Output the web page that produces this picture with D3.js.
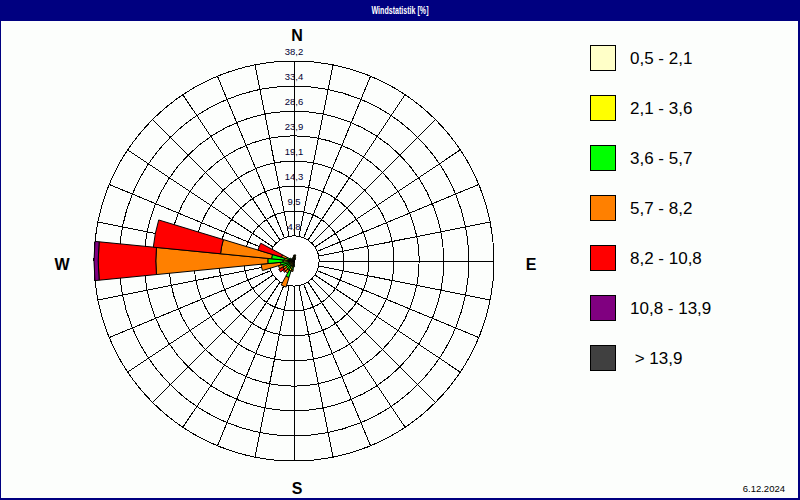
<!DOCTYPE html>
<html><head><meta charset="utf-8">
<script src="https://cdn.jsdelivr.net/npm/d3@7"></script>
<style>body{margin:0;background:#fff}svg{display:block}</style>
</head><body>
<script>
const title = "Windstatistik [%]";
const dateText = "6.12.2024";
const bearings = [0,11.25,22.5,33.75,45,56.25,67.5,78.75,90,101.25,112.5,123.75,135,146.25,157.5,168.75,180,191.25,202.5,213.75,225,236.25,247.5,258.75,270,281.25,292.5,303.75,315,326.25,337.5,348.75];
const classLabels = ["0,5 - 2,1","2,1 - 3,6","3,6 - 5,7","5,7 - 8,2","8,2 - 10,8","10,8 - 13,9"," > 13,9"];
const classColors = ["#ffffc8","#ffff00","#00ff00","#ff8000","#ff0000","#800080","#404040"];
const s1 = [0.3,0.3,0.2,0.2,0.1,0.1,0.1,0.1,0.1,0.1,0.1,0.1,0.1,0.1,0.1,0.2,0.3,0.3,0.4,0.3,0.3,0.3,0.3,0.3,0.5,0.5,0.3,0.3,0.2,0.2,0.2,0.3];
const s2 = [0.8,0.9,0.5,0.2,0.1,0,0,0,0,0,0,0,0,0,0,0.2,0.5,0.8,1.6,0.9,0.7,0.6,0.7,0.8,1.6,1.3,0.5,0.4,0.3,0.3,0.4,0.5];
const s3 = [0,0,0,0,0,0,0,0,0,0,0,0,0,0,0,0,0.3,0.6,1.3,0.8,0.9,0.8,1.3,1.5,2.9,2.5,0.7,0.2,0,0,0,0];
const s4 = [0,0,0,0,0,0,0,0,0,0,0,0,0,0,0,0,0,0.3,1.9,0.6,0.6,0.7,0.8,3.7,21.4,9.8,1.0,0,0,0,0,0];
const s5 = [0,0,0,0,0,0,0,0,0,0,0,0,0,0,0,0,0,0,0,0,0.3,0.9,0,0,11.0,12.9,4.7,0,0,0,0,0];
const s6 = [0,0,0,0,0,0,0,0,0,0,0,0,0,0,0,0,0,0,0,0,0,0,0,0,0.8,0,0,0,0,0,0,0];
const s7 = [0,0,0,0,0,0,0,0,0,0,0,0,0,0,0,0,0,0,0,0,0,0,0,0,0,0,0,0,0,0,0,0];
const series = [s1,s2,s3,s4,s5,s6,s7];
const ringTicks = [4.8,9.5,14.3,19.1,23.9,28.6,33.4,38.2];
const ringLabels = ["4,8","9,5","14,3","19,1","23,9","28,6","33,4","38,2"];
const compass = [{t:"N",a:0},{t:"E",a:90},{t:"S",a:180},{t:"W",a:270}];

const W = 800, H = 500, cx = 294, cy = 261, R = 200;
const svg = d3.select("body").append("svg").attr("width", W).attr("height", H);
svg.append("rect").attr("width", W).attr("height", H).attr("fill", "#000080");
svg.append("rect").attr("x", 1).attr("y", 21).attr("width", 797).attr("height", 477).attr("fill", "#fcfefc");
svg.append("text").attr("x", 400).attr("y", 14).attr("text-anchor", "middle")
  .attr("font-family", "Liberation Sans Narrow, Liberation Sans, sans-serif").attr("font-size", 11)
  .attr("font-weight", "bold")
  .attr("fill", "#fff").attr("textLength", 57).attr("lengthAdjust", "spacingAndGlyphs").text(title);
svg.append("text").attr("x", 785).attr("y", 492).attr("text-anchor", "end")
  .attr("font-family", "Liberation Sans, sans-serif").attr("font-size", 9.5).attr("fill", "#000").text(dateText);

const r = d3.scaleLinear().domain([0, 38.2]).range([0, R]);
const rad = d3.scaleLinear().domain([0, 360]).range([0, 2 * Math.PI]);
const g = svg.append("g").attr("transform", `translate(${cx},${cy})`);
const rin = r(ringTicks[0]);

// spokes
g.selectAll("line.spoke").data(bearings).join("line")
  .attr("x1", d => rin * Math.sin(rad(d))).attr("y1", d => -rin * Math.cos(rad(d)))
  .attr("x2", d => R * Math.sin(rad(d))).attr("y2", d => -R * Math.cos(rad(d)))
  .attr("stroke", "#000").attr("stroke-width", 1).attr("shape-rendering", "crispEdges");
// rings
g.selectAll("circle.ring").data(ringTicks).join("circle")
  .attr("r", d => r(d)).attr("fill", "none").attr("stroke", "#000").attr("stroke-width", 1)
  .attr("shape-rendering", "crispEdges");
g.append("circle").attr("r", rin).attr("fill", "#fff").attr("stroke", "#000").attr("shape-rendering", "crispEdges");
// ring labels
g.selectAll("text.rl").data(ringTicks).join("text")
  .attr("x", 0).attr("y", (d) => -r(d) - 6).attr("text-anchor", "middle")
  .attr("font-family", "Liberation Sans, sans-serif").attr("font-size", 9.5)
  .attr("fill", "#000033").text((d, i) => ringLabels[i]);

// bars
const stackData = [];
bearings.forEach((b, i) => {
  let cum = 0;
  series.forEach((s, k) => {
    const v = s[i];
    if (v > 0) stackData.push({b, k, inner: cum, outer: cum + v});
    cum += v;
  });
});
const half = 11.25 / 2;
const arc = d3.arc()
  .innerRadius(d => r(d.inner)).outerRadius(d => r(d.outer))
  .startAngle(d => rad(d.b - half)).endAngle(d => rad(d.b + half));
g.selectAll("path.seg").data(stackData).join("path")
  .attr("d", arc).attr("fill", d => classColors[d.k]).attr("stroke", "#000").attr("stroke-width", 1);

// compass labels
const cpos = {N:[297,41], E:[531,270], S:[297,494], W:[62,270]};
svg.selectAll("text.cmp").data(compass).join("text")
  .attr("x", d => cpos[d.t][0]).attr("y", d => cpos[d.t][1]).attr("text-anchor", "middle")
  .attr("font-family", "Liberation Sans, sans-serif").attr("font-weight", "bold").attr("font-size", 16)
  .attr("fill", "#000").text(d => d.t);

// legend
const lg = svg.append("g");
classLabels.forEach((lab, i) => {
  lg.append("rect").attr("x", 590.5).attr("y", 45.5 + i * 50).attr("width", 25).attr("height", 25)
    .attr("fill", classColors[i]).attr("stroke", "#000");
  lg.append("text").attr("x", 630).attr("y", 64 + i * 50)
    .attr("font-family", "Liberation Sans, sans-serif").attr("font-size", 17).attr("fill", "#000")
    .attr("xml:space", "preserve").style("white-space", "pre").text(lab);
});
</script>
</body></html>
